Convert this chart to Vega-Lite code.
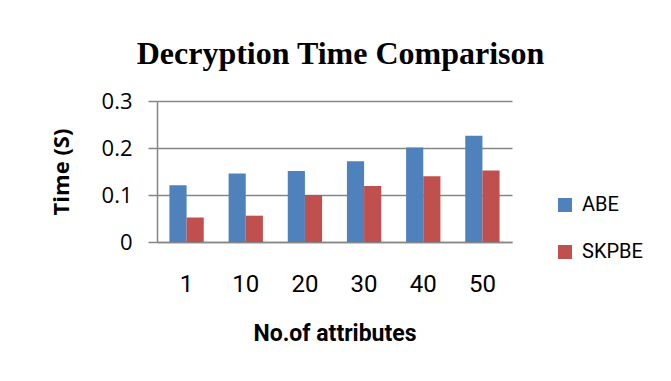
{
  "$schema": "https://vega.github.io/schema/vega-lite/v6.json",
  "autosize": "none",
  "width": 355,
  "height": 141,
  "padding": {"left": 157, "top": 101, "right": 159, "bottom": 139},
  "background": "white",
  "title": {
    "text": "Decryption Time Comparison",
    "font": "Liberation Serif",
    "fontSize": 32,
    "fontWeight": "bold",
    "color": "black",
    "anchor": "middle",
    "dx": 6,
    "offset": 19
  },
  "data": {
    "values": [
      {"attr": "1", "series": "ABE", "time": 0.121},
      {"attr": "1", "series": "SKPBE", "time": 0.052},
      {"attr": "10", "series": "ABE", "time": 0.146},
      {"attr": "10", "series": "SKPBE", "time": 0.056},
      {"attr": "20", "series": "ABE", "time": 0.151},
      {"attr": "20", "series": "SKPBE", "time": 0.1},
      {"attr": "30", "series": "ABE", "time": 0.172},
      {"attr": "30", "series": "SKPBE", "time": 0.119},
      {"attr": "40", "series": "ABE", "time": 0.201},
      {"attr": "40", "series": "SKPBE", "time": 0.14},
      {"attr": "50", "series": "ABE", "time": 0.226},
      {"attr": "50", "series": "SKPBE", "time": 0.152}
    ]
  },
  "mark": {"type": "bar"},
  "encoding": {
    "x": {
      "field": "attr",
      "type": "nominal",
      "sort": null,
      "scale": {"paddingInner": 0.42, "paddingOuter": 0.21},
      "axis": {
        "title": "No.of attributes",
        "titleFont": "Roboto",
        "titleFontSize": 23,
        "titleFontWeight": "bold",
        "titleColor": "black",
        "titlePadding": 26,
        "labelFont": "Roboto",
        "labelFontSize": 24,
        "labelColor": "black",
        "labelAngle": 0,
        "labelPadding": 30,
        "ticks": false,
        "domainColor": "#868686",
        "domainWidth": 1.5
      }
    },
    "xOffset": {"field": "series", "type": "nominal", "scale": {"paddingInner": 0, "paddingOuter": 0}},
    "y": {
      "field": "time",
      "type": "quantitative",
      "scale": {"domain": [0, 0.3]},
      "axis": {
        "title": "Time (S)",
        "titleFont": "Open Sans",
        "titleFontSize": 22,
        "titleFontWeight": "bold",
        "titleColor": "black",
        "titlePadding": 28,
        "values": [0, 0.1, 0.2, 0.3],
        "format": "~g",
        "labelFont": "Open Sans",
        "labelFontSize": 22,
        "labelColor": "black",
        "labelPadding": 16,
        "tickSize": 9,
        "tickColor": "#868686",
        "tickWidth": 1.5,
        "domainColor": "#868686",
        "domainWidth": 1.5,
        "gridColor": "#868686",
        "gridWidth": 1.5
      }
    },
    "color": {
      "field": "series",
      "type": "nominal",
      "scale": {"domain": ["ABE", "SKPBE"], "range": ["#4F81BD", "#C0504D"]},
      "legend": {
        "title": null,
        "orient": "none",
        "legendX": 398,
        "legendY": 94,
        "symbolType": "square",
        "symbolSize": 196,
        "symbolStrokeWidth": 0,
        "symbolOpacity": 1,
        "labelFont": "Roboto",
        "labelFontSize": 20,
        "labelColor": "black",
        "labelOffset": 7,
        "rowPadding": 27,
        "padding": 0
      }
    }
  },
  "config": {
    "view": {"stroke": null},
    "axis": {"gridDash": []}
  }
}
